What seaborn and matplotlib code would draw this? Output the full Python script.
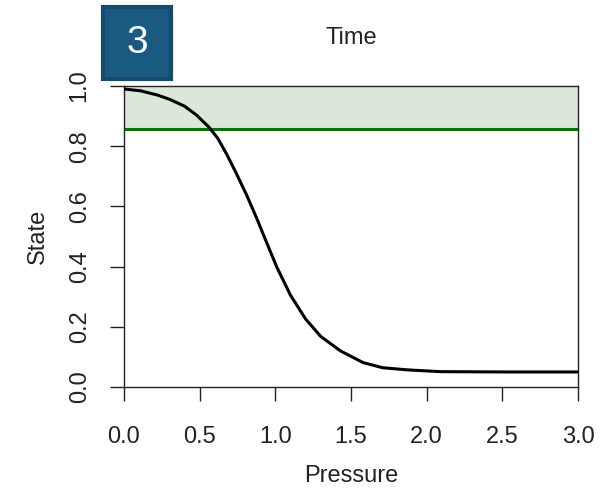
import pandas as pd
import seaborn as sns
import matplotlib.pyplot as plt
from matplotlib.patches import Rectangle

# Kurve
pressure = [0.0, 0.11, 0.22, 0.30, 0.40, 0.48, 0.56, 0.62, 0.68, 0.74, 0.81, 0.88,
            0.93, 1.01, 1.10, 1.20, 1.30, 1.43, 1.58, 1.71, 1.87, 2.09, 2.5, 3.0]
state = [0.990, 0.984, 0.970, 0.956, 0.933, 0.903, 0.864, 0.826, 0.772, 0.712, 0.638,
         0.557, 0.495, 0.398, 0.305, 0.226, 0.168, 0.120, 0.081, 0.064, 0.057, 0.051,
         0.050, 0.050]
threshold = 0.857
x_ticks = [0.0, 0.5, 1.0, 1.5, 2.0, 2.5, 3.0]
y_ticks = [0.0, 0.2, 0.4, 0.6, 0.8, 1.0]
panel_label = "3"

df = pd.DataFrame({"Pressure": pressure, "State": state})

sns.set_style("white")
plt.rcParams['font.family'] = ['Liberation Sans', 'DejaVu Sans']

fig = plt.figure(figsize=(6, 4.9), dpi=100)
ax = fig.add_axes([124 / 600, 1 - 387 / 490, 454 / 600, 301 / 490])

ax.axhspan(threshold, 1.0, color="#d9e8d8", zorder=0)
ax.axhline(threshold, color="#0f6e0f", lw=2.2, zorder=2)
sns.lineplot(data=df, x="Pressure", y="State", color="black", lw=2.2, ax=ax, zorder=3)

ax.set_xlim(0, 3)
ax.set_ylim(0, 1)
ax.set_xticks(x_ticks)
ax.set_yticks(y_ticks)
ax.set_xticklabels([f"{v:.1f}" for v in x_ticks])
ax.set_yticklabels([f"{v:.1f}" for v in y_ticks], rotation=90, va="center")
ax.tick_params(direction="out", length=10, width=1, color="#222222",
               labelsize=17, labelcolor="#222222", pad=14, left=True, bottom=True)
ax.tick_params(axis="x", pad=18)
for s in ax.spines.values():
    s.set_color("#222222")
    s.set_linewidth(1)
ax.set_xlabel("Pressure", fontsize=17, color="#222222", labelpad=12)
ax.set_ylabel("State", fontsize=17, color="#222222", labelpad=14)

fig.text(0.585, 0.922, "Time", ha="center", va="center", fontsize=17, color="#222222")

fig.patches.append(Rectangle((103 / 600, 1 - 79 / 490), 68 / 600, 72 / 490,
                             transform=fig.transFigure, facecolor="#1b5a80",
                             edgecolor="#164a68", lw=3))
fig.text(137 / 600, 1 - 43 / 490, panel_label, ha="center", va="center",
         fontsize=28, color="white")

fig.savefig("out.png", dpi=100)
